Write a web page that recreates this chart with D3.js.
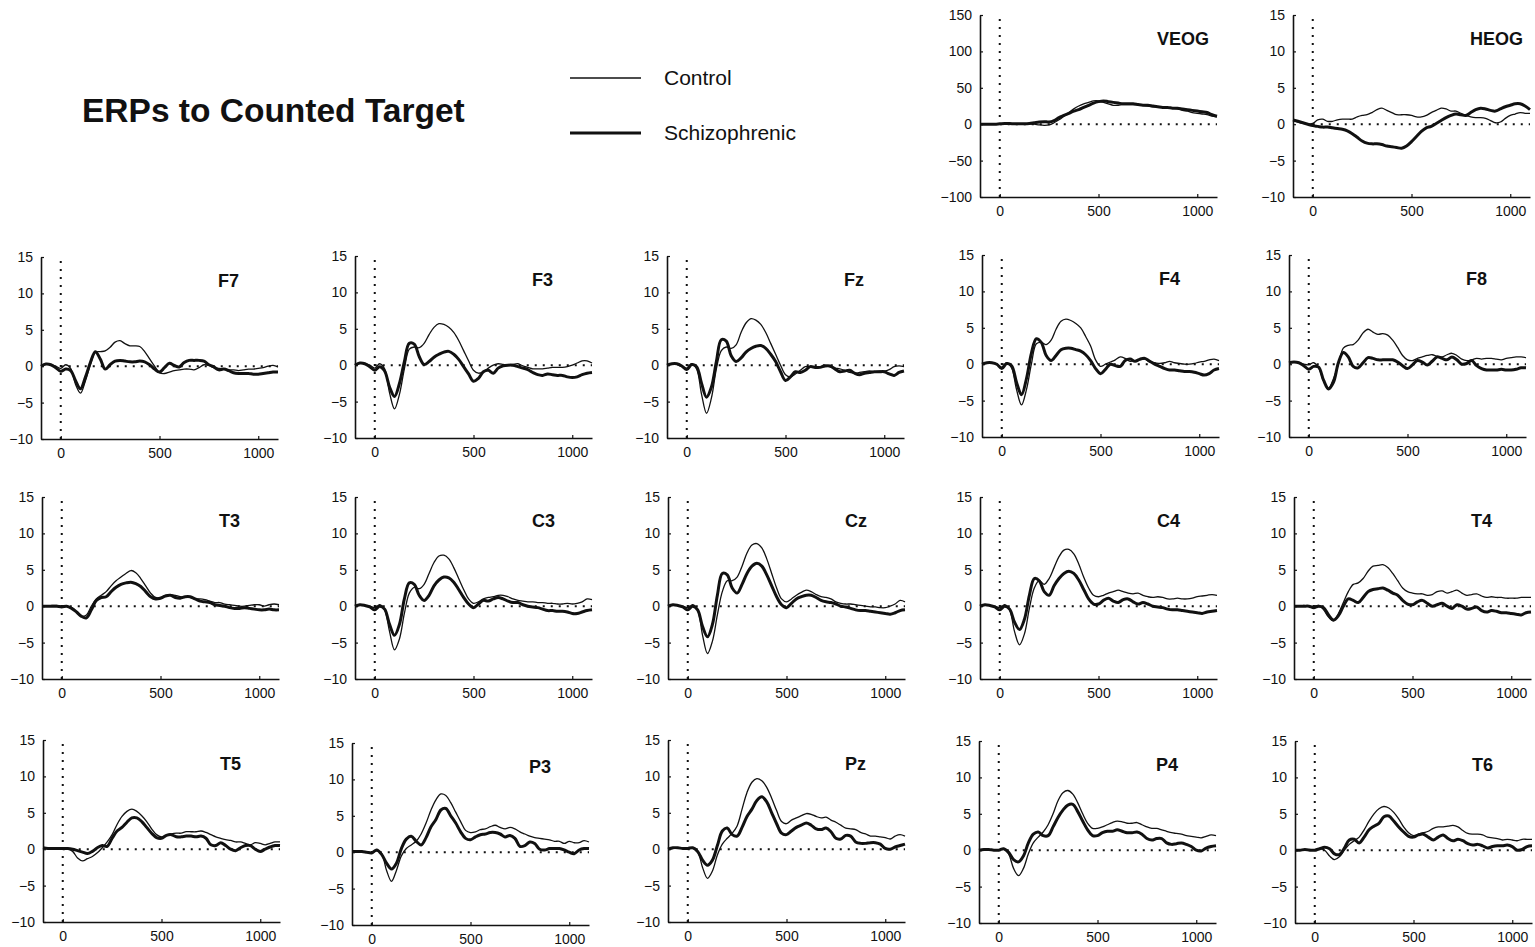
<!DOCTYPE html>
<html>
<head>
<meta charset="utf-8">
<script src="https://cdn.jsdelivr.net/npm/d3@7"></script>
<style>
  body { margin: 0; background: #fff; }
  svg text { font-family: "Liberation Sans", Arial, Helvetica, sans-serif; fill: #111; }
</style>
</head>
<body>
<div id="wrapper"></div>
<script>
// sample times (ms), shared by every waveform
const times = [-100, -75, -50, -25, 0, 25, 50, 75, 100, 125, 150, 175, 200, 225, 250, 275,
  300, 325, 350, 375, 400, 425, 450, 475, 500, 525, 550, 575, 600, 625, 650, 675,
  700, 725, 750, 775, 800, 825, 850, 875, 900, 925, 950, 975, 1000, 1025, 1050, 1075, 1100];

const xTicks = [0, 500, 1000];
const eegTicks = [-10, -5, 0, 5, 10, 15];
const eogTicks = [-100, -50, 0, 50, 100, 150];

// amplitudes (uV): control = thin, schizo = thick
const VEOG_control = [0,0,0,0, 0.5,0.5,0.5,0.5, 0.5,0.5,0.5,0, -1,-1.5,-1,2, 6,11,16,21, 25,28,30,32, 32,30,28,26, 26,27,27,27, 27,26,25,24, 24,23,23,22, 21,19,18,16, 15,14,13,11, 10];
const VEOG_schizo = [0,0,0,0, 0.5,1,1,0.5, 0.5,0.5,1,2, 3,3.5,3,5, 9,12,15,18, 20,23,26,29, 31,32,31,30, 29,28,28,28, 27,26,26,25, 24,23,23,22, 22,21,20,19, 18,17,16,13, 11];
const HEOG_control = [0.5,0.3,0.1,0, 0.1,0.6,0.7,0.4, 0.4,0.6,0.7,0.7, 0.7,1.0,1.2,1.3, 1.6,2.0,2.2,1.9, 1.6,1.3,1.3,1.3, 1.2,1.0,1.0,1.2, 1.6,1.9,2.2,2.1, 1.8,1.8,1.5,1.2, 1.0,0.9,0.9,0.8, 0.5,0.2,0.3,0.8, 1.2,1.4,1.6,1.5, 1.5];
const HEOG_schizo = [0.6,0.4,0.2,0, -0.2,-0.3,-0.4,-0.4, -0.5,-0.6,-0.7,-0.9, -1.3,-1.8,-2.3,-2.6, -2.7,-2.7,-2.8,-3.0, -3.1,-3.2,-3.3,-3.0, -2.4,-1.7,-1.0,-0.5, -0.3,0.1,0.5,0.9, 1.2,1.4,1.3,1.2, 1.6,2.0,2.2,2.1, 1.9,1.8,2.1,2.4, 2.6,2.8,2.8,2.5, 2.0];

const F7_control = [0,0.3,0.2,0, -0.3,0.2,-0.3,-2.5, -3.7,-2,0.2,1.9, 2.0,2.1,2.6,3.3, 3.5,3.1,2.8,2.8, 2.7,2.0,1.0,0.0, -0.9,-1.0,-0.8,-0.6, -0.5,-0.4,-0.4,-0.5, -0.2,0.2,0.1,-0.2, -0.3,-0.4,-0.5,-0.5, -0.6,-0.5,-0.4,-0.4, -0.3,-0.2,0,0.1, -0.1];
const F7_schizo = [0,0.3,0.2,-0.2, -0.7,-0.4,-0.6,-2, -3.1,-1.5,0.5,2.0, 1.0,-0.4,0.2,0.7, 0.8,0.7,0.6,0.6, 0.7,0.6,0.2,-0.4, -0.8,-0.2,0.4,0.1, -0.1,0.5,0.8,0.8, 0.8,0.7,0.2,-0.1, -0.5,-0.4,-0.6,-0.9, -1.0,-1.0,-1.0,-1.1, -1.1,-1.0,-0.9,-0.8, -0.8];
const F3_control = [0,0.3,0.2,0, -0.4,0.2,-0.5,-3.8, -6.0,-4.0,-0.5,2.2, 2.5,2.4,3.0,4.2, 5.2,5.7,5.6,5.2, 4.5,3.4,2.0,0.6, -0.7,-1.1,-0.9,-0.4, 0.0,0.2,0.1,0.0, 0.1,0.2,-0.1,-0.3, -0.5,-0.5,-0.5,-0.4, -0.3,-0.3,-0.3,-0.2, 0.0,0.3,0.6,0.6, 0.3];
const F3_schizo = [0,0.3,0.2,-0.2, -0.7,-0.2,-0.8,-3.0, -4.3,-2.5,0.5,3.0, 2.9,1.2,0.1,0.5, 1.1,1.5,1.8,1.9, 1.5,0.8,-0.2,-1.2, -2.2,-1.8,-0.9,-0.7, -1.1,-0.4,-0.1,0.0, 0.0,-0.2,-0.4,-0.6, -1.0,-1.3,-1.4,-1.2, -1.3,-1.4,-1.4,-1.6, -1.7,-1.6,-1.3,-1.1, -1.0];
const Fz_control = [0,0.2,0.1,-0.2, -0.4,0.2,-0.5,-4.0, -6.6,-4.5,-0.5,2.0, 2.5,2.3,2.8,4.5, 5.8,6.4,6.2,5.6, 4.5,3.0,1.5,0.0, -1.3,-1.6,-1.2,-0.7, -0.2,-0.2,-0.3,-0.2, 0.0,-0.2,-0.4,-0.5, -0.7,-1.0,-1.1,-1.0, -0.9,-0.8,-0.9,-0.8, -0.8,-0.6,-0.2,-0.1, -0.2];
const Fz_schizo = [0,0.2,0.2,-0.1, -0.6,0.1,-0.2,-2.5, -4.4,-3.0,0.5,3.5, 3.3,1.3,0.5,1.0, 1.8,2.3,2.6,2.7, 2.3,1.5,0.5,-0.9, -2.1,-1.6,-0.9,-1.0, -0.7,-0.2,-0.3,-0.3, -0.1,-0.1,-0.5,-0.9, -0.8,-0.7,-1.1,-1.3, -1.1,-1.0,-0.9,-0.9, -0.9,-1.2,-1.4,-1.0, -0.8];
const F4_control = [0,0.2,0.2,0, -0.4,0.2,-0.5,-3.5, -5.6,-3.5,0,2.8, 3.0,2.7,3.3,4.8, 5.9,6.2,6.0,5.6, 5.0,3.8,2.5,0.6, -0.3,0.0,0.3,0.6, 1.0,0.8,0.4,0.5, 0.6,0.7,0.3,0.2, 0.1,0.2,0.4,0.2, 0.1,0.0,0.0,0.1, 0.3,0.4,0.6,0.7, 0.5];
const F4_schizo = [0,0.2,0.2,0, -0.6,0.1,-0.2,-2.5, -4.2,-2.0,1.5,3.5, 3.0,1.2,0.5,1.2, 2.0,2.2,2.2,2.0, 1.8,1.3,0.5,-0.6, -1.3,-0.7,0.0,-0.2, -0.3,0.5,0.7,0.4, 0.7,0.8,0.4,0.0, -0.3,-0.6,-0.8,-0.8, -0.9,-1.0,-1.0,-1.1, -1.3,-1.5,-1.3,-0.8, -0.6];
const F8_control = [0.2,0.3,0.2,0, -0.1,0.2,-0.5,-2.3, -3.3,-2.0,0,2.2, 2.6,2.7,3.3,4.3, 4.8,4.4,4.1,4.2, 4.0,3.3,2.3,1.2, 0.6,0.5,0.8,1.0, 1.2,1.3,1.1,1.0, 1.3,1.5,1.2,0.7, 0.5,0.6,0.8,0.7, 0.8,0.8,0.7,0.6, 0.8,0.9,1.0,1.0, 0.9];
const F8_schizo = [0.2,0.3,0.2,-0.2, -0.7,-0.3,-0.4,-2.2, -3.4,-2.5,0.2,1.6, 1.0,-0.3,-0.5,0.2, 0.9,0.8,0.6,0.6, 0.6,0.6,0.3,-0.2, -0.6,-0.1,0.5,0.3, -0.1,0.4,1.0,0.8, 0.6,1.0,0.6,0.0, 0.1,0.5,-0.2,-0.6, -0.8,-0.8,-0.8,-0.7, -0.8,-0.8,-0.7,-0.5, -0.5];

const T3_control = [0,0,0.1,0.1, 0,0,-0.2,-0.8, -1.4,-1.2,0,1.0, 1.5,2.0,2.8,3.5, 4.0,4.5,4.9,4.6, 3.8,2.8,1.8,1.2, 1.2,1.5,1.6,1.5, 1.3,1.3,1.2,1.0, 1.0,0.9,0.7,0.5, 0.5,0.3,0.2,0.1, 0,0,0.1,0.2, 0.2,0,0.2,0.3, 0.2];
const T3_schizo = [0,0,0,0, -0.1,0,-0.3,-0.8, -1.4,-1.6,-0.5,0.8, 1.2,1.3,2.0,2.6, 3.0,3.2,3.3,3.1, 2.7,2.0,1.3,1.0, 1.1,1.4,1.5,1.2, 1.1,1.3,1.3,1.0, 0.7,0.6,0.5,0.2, 0.1,0,-0.2,-0.3, -0.3,-0.2,-0.3,-0.4, -0.5,-0.5,-0.4,-0.5, -0.5];
const C3_control = [0,0.2,0.1,0, -0.2,0.2,-0.5,-3.5, -6.0,-4.5,-1.0,1.8, 2.6,2.4,3.0,4.5, 6.0,6.9,7.0,6.5, 5.3,3.8,2.3,1.0, 0.4,0.6,1.0,1.2, 1.3,1.5,1.5,1.3, 1.0,0.8,0.7,0.6, 0.6,0.5,0.5,0.4, 0.4,0.3,0.3,0.4, 0.3,0.4,0.6,1.0, 0.9];
const C3_schizo = [0,0.2,0.1,-0.1, -0.5,0,-0.4,-2.5, -4.0,-2.5,1.0,3.2, 3.0,1.5,0.8,1.5, 2.8,3.6,4.0,3.9, 3.3,2.3,1.2,0.3, -0.2,0.3,0.8,0.7, 1.0,1.2,1.0,0.7, 0.5,0.5,0.2,0, -0.1,-0.2,-0.4,-0.6, -0.6,-0.7,-0.7,-0.8, -1.0,-1.0,-0.8,-0.6, -0.5];
const Cz_control = [0,0.2,0.1,0, -0.2,0.2,-0.5,-4.0, -6.5,-4.8,-1.2,2.0, 3.5,3.5,4.0,5.5, 7.3,8.4,8.6,8.0, 6.5,4.5,2.5,1.0, 0.6,1.0,1.5,1.9, 2.2,2.0,1.6,1.3, 1.2,1.0,0.6,0.4, 0.3,0.3,0.2,0.1, 0,-0.1,-0.1,-0.2, -0.2,0,0.3,0.8, 0.6];
const Cz_schizo = [0,0.2,0.1,-0.1, -0.5,0,-0.5,-2.8, -4.2,-2.5,1.5,4.5, 4.3,2.5,1.8,3.0, 4.5,5.5,5.9,5.5, 4.3,2.8,1.3,0.2, -0.2,0.4,1.0,1.3, 1.5,1.5,1.2,0.8, 0.6,0.5,0.3,0, -0.1,-0.3,-0.5,-0.6, -0.6,-0.7,-0.8,-0.9, -1.0,-1.1,-0.9,-0.6, -0.5];
const C4_control = [0,0.2,0.1,0, -0.2,0.2,-0.5,-3.5, -5.3,-3.8,-0.3,2.5, 3.5,3.0,3.8,5.3, 6.8,7.7,7.8,7.2, 5.8,4.0,2.5,1.5, 1.3,1.5,1.8,2.0, 2.2,2.0,1.8,1.7, 1.8,1.5,1.3,1.2, 1.3,1.2,1.0,1.0, 1.1,1.0,1.0,1.1, 1.3,1.4,1.5,1.6, 1.5];
const C4_schizo = [0,0.2,0.1,-0.1, -0.5,0,-0.4,-2.2, -3.2,-1.8,1.5,3.8, 3.5,2.0,1.5,2.8, 3.8,4.5,4.8,4.5, 3.6,2.3,1.0,0.3, 0.3,0.8,1.1,0.7, 0.5,0.9,1.0,0.6, 0.3,0.5,0.3,0, -0.1,-0.2,-0.4,-0.5, -0.5,-0.6,-0.7,-0.8, -0.9,-1.0,-0.8,-0.7, -0.6];
const T4_control = [0,0,0.1,0, 0,0.1,-0.5,-1.5, -2.0,-1.0,0.5,2.0, 3.0,3.2,3.8,4.8, 5.5,5.6,5.7,5.3, 4.5,3.5,2.5,2.0, 1.8,1.7,1.7,1.5, 1.6,2.0,2.1,1.8, 2.0,2.2,1.8,1.5, 1.6,1.7,1.4,1.2, 1.3,1.2,1.2,1.1, 1.1,1.1,1.2,1.2, 1.2];
const T4_schizo = [0,0,0,0, -0.2,0,-0.2,-1.2, -1.9,-1.3,0,1.0, 0.8,0.5,1.2,2.0, 2.3,2.4,2.5,2.2, 1.8,1.5,0.8,0.3, 0.2,0.6,0.8,0.4, 0,0.2,0.4,0, -0.3,0.2,0,-0.4, -0.3,-0.1,-0.6,-0.8, -0.6,-0.7,-0.9,-0.9, -1.0,-1.1,-1.2,-0.9, -0.8];

const T5_control = [0.2,0.1,0.1,0, 0,0,-0.3,-1.2, -1.6,-1.3,-1.0,-0.5, 0.2,1.0,2.0,3.4, 4.5,5.2,5.5,5.2, 4.6,3.8,2.8,2.0, 1.7,1.9,2.1,2.2, 2.2,2.4,2.4,2.4, 2.5,2.3,2.0,1.7, 1.5,1.3,1.2,1.0, 1.0,0.8,0.6,0.9, 0.8,0.6,0.8,1.0, 1.0];
const T5_schizo = [0.2,0.1,0.1,0.1, 0.1,0.1,0,-0.2, -0.4,-0.6,-0.3,0.2, 0.5,0.4,1.5,2.5, 3.0,3.7,4.3,4.3, 3.8,3.0,2.2,1.6, 1.5,1.9,2.0,1.7, 1.7,1.8,1.8,1.7, 1.8,1.5,0.6,0.5, 0.9,0.5,0,-0.2, 0.2,0.5,0.5,0, -0.3,0,0.3,0.5, 0.5];
const P3_control = [0.1,0.1,0.1,0, -0.1,0.2,-0.2,-2.5, -4.0,-2.5,-0.5,0.5, 1.0,1.5,2.5,4.0, 5.8,7.2,8.0,7.8, 6.8,5.5,4.2,3.0, 2.7,2.8,3.1,3.2, 3.5,3.7,3.4,3.2, 3.4,3.2,2.8,2.5, 2.2,2.0,1.9,1.8, 1.7,1.5,1.5,1.2, 1.5,1.3,1.3,1.6, 1.4];
const P3_schizo = [0.1,0.1,0.1,0, -0.1,0.3,-0.3,-1.5, -2.3,-1.5,0.5,1.8, 2.2,1.5,1.0,2.0, 3.5,4.5,5.8,6.0, 5.0,4.0,2.8,1.9, 1.7,2.1,2.4,2.5, 2.7,2.7,2.5,2.1, 2.3,1.9,0.8,0.9, 1.4,1.2,0.4,0.3, 0.5,0.5,0.5,0.3, 0,-0.2,0.3,0.5, 0.5];
const Pz_control = [0,0.1,0.2,0.1, 0.1,0.2,-0.3,-2.5, -4.0,-3.0,-0.8,0.7, 1.5,2.2,3.2,5.5, 7.8,9.2,9.7,9.4, 8.5,7.0,5.3,3.8, 3.5,4.0,4.3,4.6, 4.9,4.8,4.5,4.3, 4.4,4.0,3.7,3.3, 2.9,2.8,2.7,2.3, 2.1,1.8,1.8,1.7, 1.6,1.4,1.8,2.0, 1.8];
const Pz_schizo = [0,0.2,0.2,0.1, 0.1,0.2,-0.3,-1.5, -2.2,-1.5,0.5,2.5, 2.9,2.0,1.8,3.0, 4.5,5.5,6.7,7.2, 6.5,5.0,3.5,2.2, 2.0,2.5,3.0,3.3, 3.6,3.3,2.8,2.7, 2.9,2.4,1.5,1.4, 1.9,1.8,1.0,0.8, 0.8,0.9,0.9,0.7, 0.1,0,0.3,0.5, 0.7];
const P4_control = [0,0.1,0.1,0, 0,0.2,-0.5,-2.5, -3.5,-2.5,-0.5,1.0, 1.8,2.5,3.5,5.0, 6.8,7.9,8.2,7.7, 6.5,5.0,3.7,3.0, 3.0,3.2,3.5,3.8, 4.0,3.9,3.7,3.7, 3.8,3.5,3.2,3.0, 3.0,2.8,2.6,2.4, 2.3,2.2,2.0,1.9, 1.8,1.7,1.9,2.1, 2.0];
const P4_schizo = [0,0.1,0.1,0, 0,0.2,-0.3,-1.3, -1.6,-0.8,1.0,2.2, 2.5,2.0,2.0,3.2, 4.5,5.5,6.2,6.3, 5.3,4.0,2.8,2.0, 2.0,2.4,2.6,2.6, 2.8,2.6,2.4,2.4, 2.5,2.2,1.6,1.4, 1.6,1.6,1.0,0.8, 0.9,1.0,0.8,0.5, 0,-0.1,0.3,0.5, 0.6];
const T6_control = [0,0,0.1,0.1, 0,0.2,0,-0.8, -1.3,-0.9,0,0.8, 1.3,1.8,2.8,4.0, 5.0,5.7,6.0,5.8, 5.2,4.3,3.2,2.4, 2.0,2.2,2.4,2.6, 3.0,3.2,3.2,3.3, 3.4,3.2,2.7,2.3, 2.2,2.2,2.1,1.8, 1.7,1.6,1.4,1.5, 1.4,1.3,1.5,1.5, 1.5];
const T6_schizo = [0,0,0.1,0, 0,0.2,0.4,0.2, -0.5,-0.6,0.3,1.4, 1.5,1.0,1.8,2.8, 3.3,3.7,4.6,4.7, 4.0,3.2,2.5,1.9, 1.8,2.1,2.2,1.8, 1.4,1.8,2.1,1.6, 1.3,1.5,1.3,0.9, 0.7,0.8,0.6,0.3, 0.5,0.6,0.6,0.7, 0.5,0,0.1,0.5, 0.6];

// panel layout: left = y-axis x position, top = y of the top tick
const panels = [
  { name: 'VEOG', left: 980, top: 15, control: VEOG_control, schizo: VEOG_schizo, ticks: eogTicks },
  { name: 'HEOG', left: 1293, top: 15, control: HEOG_control, schizo: HEOG_schizo, ticks: eegTicks },
  { name: 'F7', left: 41, top: 257, control: F7_control, schizo: F7_schizo, ticks: eegTicks },
  { name: 'F3', left: 355, top: 256, control: F3_control, schizo: F3_schizo, ticks: eegTicks },
  { name: 'Fz', left: 667, top: 256, control: Fz_control, schizo: Fz_schizo, ticks: eegTicks },
  { name: 'F4', left: 982, top: 255, control: F4_control, schizo: F4_schizo, ticks: eegTicks },
  { name: 'F8', left: 1289, top: 255, control: F8_control, schizo: F8_schizo, ticks: eegTicks },
  { name: 'T3', left: 42, top: 497, control: T3_control, schizo: T3_schizo, ticks: eegTicks },
  { name: 'C3', left: 355, top: 497, control: C3_control, schizo: C3_schizo, ticks: eegTicks },
  { name: 'Cz', left: 668, top: 497, control: Cz_control, schizo: Cz_schizo, ticks: eegTicks },
  { name: 'C4', left: 980, top: 497, control: C4_control, schizo: C4_schizo, ticks: eegTicks },
  { name: 'T4', left: 1294, top: 497, control: T4_control, schizo: T4_schizo, ticks: eegTicks },
  { name: 'T5', left: 43, top: 740, control: T5_control, schizo: T5_schizo, ticks: eegTicks },
  { name: 'P3', left: 352, top: 743, control: P3_control, schizo: P3_schizo, ticks: eegTicks },
  { name: 'Pz', left: 668, top: 740, control: Pz_control, schizo: Pz_schizo, ticks: eegTicks },
  { name: 'P4', left: 979, top: 741, control: P4_control, schizo: P4_schizo, ticks: eegTicks },
  { name: 'T6', left: 1295, top: 741, control: T6_control, schizo: T6_schizo, ticks: eegTicks },
];

const dimensions = {
  width: 1535,
  height: 947,
  panelWidth: 237,
  panelHeight: 182,
};
const thinWidth = 1.3;
const thickWidth = 3;
const ink = '#111';

const wrapper = d3
  .select('#wrapper')
  .append('svg')
  .attr('width', dimensions.width)
  .attr('height', dimensions.height);

// title
wrapper
  .append('text')
  .attr('x', 82)
  .attr('y', 122)
  .style('font-size', '33.5px')
  .style('font-weight', 'bold')
  .text('ERPs to Counted Target');

// legend
const legend = wrapper.append('g');
[
  { label: 'Control', y: 78, width: thinWidth },
  { label: 'Schizophrenic', y: 133, width: thickWidth },
].forEach((item) => {
  legend
    .append('line')
    .attr('x1', 570)
    .attr('x2', 641)
    .attr('y1', item.y)
    .attr('y2', item.y)
    .attr('stroke', ink)
    .attr('stroke-width', item.width);
  legend
    .append('text')
    .attr('x', 664)
    .attr('y', item.y)
    .attr('dy', '0.35em')
    .style('font-size', '21px')
    .text(item.label);
});

const xScale = d3
  .scaleLinear()
  .domain([-100, 1100])
  .range([0, dimensions.panelWidth]);

const drawPanel = (panel) => {
  const yScale = d3
    .scaleLinear()
    .domain(d3.extent(panel.ticks))
    .range([dimensions.panelHeight, 0]);

  const bounds = wrapper
    .append('g')
    .attr('transform', `translate(${panel.left}, ${panel.top})`);

  // dotted zero lines
  bounds
    .append('line')
    .attr('x1', xScale(0))
    .attr('x2', xScale(0))
    .attr('y1', 4)
    .attr('y2', dimensions.panelHeight)
    .attr('stroke', ink)
    .attr('stroke-width', 2)
    .attr('stroke-dasharray', '2,6');
  bounds
    .append('line')
    .attr('x1', xScale(0))
    .attr('x2', dimensions.panelWidth)
    .attr('y1', yScale(0))
    .attr('y2', yScale(0))
    .attr('stroke', ink)
    .attr('stroke-width', 2)
    .attr('stroke-dasharray', '2,6');

  const lineGenerator = d3
    .line()
    .x((d, i) => xScale(times[i]))
    .y((d) => yScale(d))
    .curve(d3.curveCatmullRom.alpha(0.5));

  bounds
    .append('path')
    .attr('d', lineGenerator(panel.control))
    .attr('fill', 'none')
    .attr('stroke', ink)
    .attr('stroke-width', thinWidth);

  bounds
    .append('path')
    .attr('d', lineGenerator(panel.schizo))
    .attr('fill', 'none')
    .attr('stroke', ink)
    .attr('stroke-width', thickWidth)
    .attr('stroke-linejoin', 'round');

  const yAxisGenerator = d3
    .axisLeft(yScale)
    .tickValues(panel.ticks)
    .tickFormat(d3.format('d'))
    .tickSize(-3)
    .tickSizeOuter(0)
    .tickPadding(8);
  const xAxisGenerator = d3
    .axisBottom(xScale)
    .tickValues(xTicks)
    .tickFormat(d3.format('d'))
    .tickSize(-3)
    .tickSizeOuter(0)
    .tickPadding(9);

  const yAxis = bounds.append('g').call(yAxisGenerator);
  const xAxis = bounds
    .append('g')
    .attr('transform', `translate(0, ${dimensions.panelHeight})`)
    .call(xAxisGenerator);

  [xAxis, yAxis].forEach((axis) => {
    axis.select('.domain').attr('stroke', ink).attr('stroke-width', 1.6);
    axis.selectAll('.tick line').attr('stroke', ink).attr('stroke-width', 1.2);
    axis
      .selectAll('.tick text')
      .style('font-size', '14px')
      .style('font-family', '"Liberation Sans", Arial, sans-serif')
      .attr('fill', ink);
  });

  bounds
    .append('text')
    .attr('x', 177)
    .attr('y', 24)
    .attr('dy', '0.35em')
    .style('font-size', '18px')
    .style('font-weight', 'bold')
    .text(panel.name);
};

panels.forEach(drawPanel);
</script>
</body>
</html>
